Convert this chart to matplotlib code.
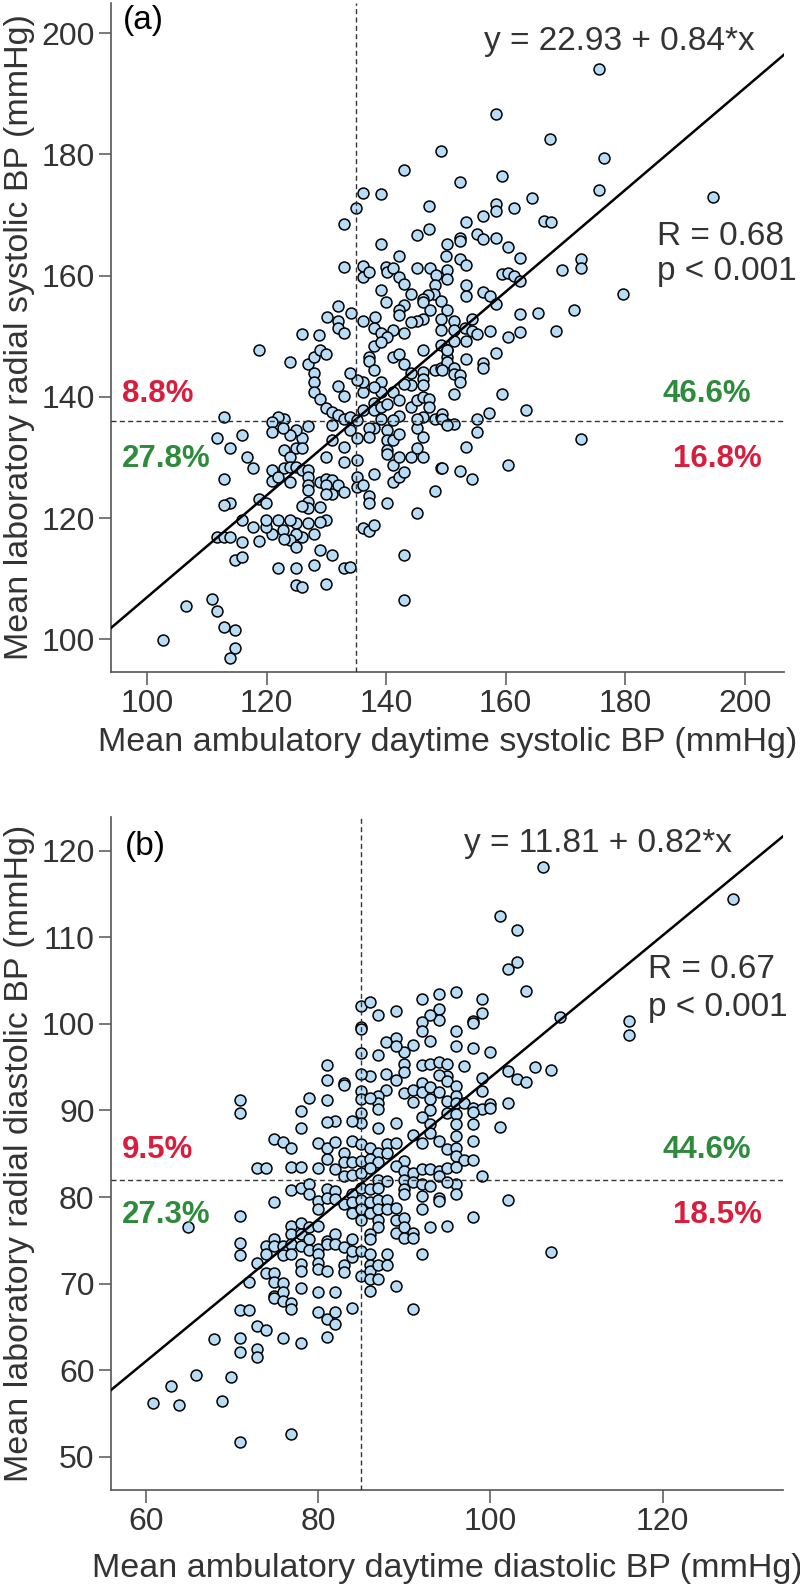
import numpy as np
import matplotlib.pyplot as plt

plt.rcParams['font.family'] = ['Liberation Sans', 'DejaVu Sans']

# (ambulatory daytime, laboratory radial) systolic BP per subject, mmHg
sys_points = np.array([
    (149.2, 180.6), (143.0, 177.4), (136.1, 173.7), (139.1, 173.4), (135.0, 171.2), (147.2, 171.5),
    (133.0, 168.6), (145.2, 166.7), (147.2, 167.7), (150.2, 165.2), (139.1, 165.2), (142.2, 163.2),
    (150.0, 163.2), (133.0, 161.4), (136.1, 161.6), (136.1, 159.8), (137.2, 160.6), (140.0, 161.4),
    (140.1, 160.6), (141.2, 161.2), (142.2, 159.7), (145.2, 161.3), (147.3, 161.2), (148.4, 160.1),
    (150.2, 160.9), (150.2, 159.5), (143.0, 158.7), (148.2, 158.4), (148.1, 157.0), (147.1, 156.8),
    (146.2, 156.2), (146.2, 155.7), (144.1, 156.9), (139.1, 157.6), (140.0, 155.7), (143.0, 155.1),
    (142.2, 154.4), (142.2, 153.5), (149.2, 155.8), (150.2, 154.3), (147.3, 154.4), (146.2, 152.9),
    (145.2, 152.6), (144.1, 152.4), (132.0, 155.0), (134.1, 153.9), (130.1, 153.1), (132.0, 152.5),
    (132.0, 151.4), (133.0, 150.6), (136.1, 152.6), (138.1, 153.1), (138.0, 151.3), (139.1, 150.5),
    (141.1, 151.1), (143.0, 150.5), (125.9, 150.3), (128.8, 150.2), (149.2, 152.8), (149.2, 151.1),
    (140.1, 149.9),
    (175.6, 194.1), (158.4, 186.7), (167.4, 182.6), (176.5, 179.5), (159.4, 176.5), (152.3, 175.4),
    (175.6, 174.1), (194.8, 173.0), (164.5, 172.8), (161.4, 171.1), (158.4, 171.8), (158.4, 170.6),
    (156.3, 169.8), (153.3, 168.9), (166.5, 169.1), (167.6, 168.8), (152.3, 166.3), (152.3, 165.7),
    (155.3, 166.8), (156.3, 166.0), (158.4, 166.2), (160.4, 164.7), (162.4, 162.9), (152.3, 162.7),
    (153.3, 161.7), (159.4, 160.3), (160.4, 160.5), (161.4, 159.9), (162.4, 159.2), (169.5, 160.9),
    (172.6, 162.7), (172.6, 161.3), (153.3, 158.4), (153.3, 156.6), (156.3, 157.3), (157.4, 156.6),
    (158.4, 155.4), (151.3, 152.5), (154.3, 152.8), (162.4, 153.6), (165.4, 153.9), (171.5, 154.3),
    (179.6, 156.9), (151.3, 151.0), (153.2, 151.3), (154.3, 150.9), (155.3, 150.3), (157.4, 150.8),
    (160.4, 149.9), (162.4, 150.7), (168.5, 150.8),
    (118.8, 147.8), (123.9, 145.7), (127.0, 145.5), (128.0, 146.6), (128.9, 147.8), (130.0, 147.0),
    (138.0, 148.4), (139.1, 149.1), (137.1, 146.6), (137.1, 145.9), (138.0, 144.4), (139.1, 142.5),
    (141.1, 146.6), (142.2, 147.0), (143.0, 145.5), (144.2, 144.0), (146.2, 147.8), (149.2, 148.5),
    (150.2, 147.7), (150.2, 146.6), (148.2, 144.4), (149.2, 144.7), (146.2, 144.1), (146.2, 143.0),
    (146.2, 141.9), (144.2, 141.9), (143.0, 142.2), (141.1, 140.8), (139.1, 140.8), (138.0, 141.6),
    (136.1, 140.8), (136.1, 142.5), (135.1, 142.7), (134.0, 144.0), (128.0, 144.0), (128.0, 142.5),
    (128.0, 140.8), (128.9, 139.6), (132.0, 141.8), (133.0, 140.1), (130.0, 138.2), (131.0, 137.5),
    (132.0, 137.0), (133.0, 136.4), (134.0, 136.7), (135.1, 136.1), (136.1, 137.8), (138.0, 139.0),
    (138.0, 137.8), (139.1, 138.3), (140.1, 138.9), (142.2, 139.4), (144.2, 138.3), (145.1, 139.4),
    (146.2, 140.0), (147.2, 139.7), (147.2, 138.3), (148.2, 136.4), (149.2, 136.7), (150.2, 135.6),
    (146.2, 136.7), (145.1, 134.8), (142.2, 136.8), (141.1, 136.1), (139.1, 136.4), (138.0, 134.8),
    (137.1, 134.8), (137.1, 133.4), (140.1, 134.5), (140.1, 132.8), (141.1, 132.8), (142.2, 133.9),
    (146.2, 133.4), (145.1, 136.4), (134.0, 134.5), (135.1, 133.2), (133.0, 131.7), (135.1, 129.5),
    (133.0, 129.3), (131.0, 135.3), (131.0, 132.8), (130.0, 130.1), (127.0, 135.2), (125.9, 133.2),
    (125.0, 134.5), (123.9, 133.7), (122.9, 136.3), (121.9, 136.6), (120.9, 135.9), (120.9, 134.2),
    (122.7, 134.8), (125.0, 131.5), (125.9, 131.5), (122.9, 131.3), (123.9, 130.1), (112.8, 136.7),
    (111.7, 133.2), (113.8, 131.5), (115.9, 133.7), (116.8, 130.1), (117.8, 128.3), (112.8, 126.5),
    (120.9, 128.0), (120.9, 126.1), (122.9, 128.2), (123.9, 128.4), (125.0, 128.4), (125.9, 128.0),
    (127.0, 127.9), (123.9, 126.0), (127.0, 126.8), (127.0, 125.4), (127.0, 124.6), (128.9, 126.0),
    (130.0, 126.4), (131.0, 126.2), (130.0, 125.4), (131.0, 124.0), (130.0, 124.0), (132.0, 125.4),
    (133.0, 124.3), (135.1, 126.8), (135.1, 125.1), (136.1, 125.4), (137.1, 123.6), (137.1, 122.4),
    (138.0, 127.2), (140.1, 131.2), (140.1, 130.5), (141.1, 128.7), (141.1, 126.0), (142.2, 126.8),
    (142.2, 130.1), (143.0, 127.6), (144.2, 130.1), (146.2, 130.1), (145.1, 131.5), (148.2, 124.5),
    (149.2, 128.2), (140.1, 122.4), (145.1, 120.9), (127.0, 122.7), (127.0, 121.6), (125.9, 122.0),
    (128.9, 121.8), (130.0, 119.7), (128.9, 119.4), (128.0, 117.4), (127.0, 119.1), (125.9, 116.9),
    (125.0, 119.1), (125.0, 117.3), (123.9, 116.3), (122.7, 118.1), (121.9, 119.7), (120.9, 117.4),
    (119.9, 118.5), (119.9, 119.7), (118.8, 123.1), (119.9, 122.4), (117.8, 118.5), (118.8, 116.2),
    (115.9, 119.7), (115.9, 116.1), (113.8, 122.4), (112.8, 122.2), (111.7, 116.9), (112.8, 116.9),
    (113.8, 116.9), (114.8, 113.0), (115.9, 113.5), (121.9, 111.7), (122.9, 116.6), (125.0, 115.2),
    (128.9, 114.8), (131.0, 113.9), (128.0, 112.3), (125.0, 111.8), (133.0, 111.8), (134.0, 112.0),
    (125.0, 108.9), (125.9, 108.6), (130.0, 109.1), (136.1, 118.4), (137.1, 117.8), (138.0, 118.9),
    (143.0, 113.9), (143.0, 106.5), (106.6, 105.5), (110.8, 106.6), (111.7, 104.7), (112.8, 102.0),
    (114.8, 101.6), (114.8, 98.6), (113.8, 96.9), (102.7, 99.8), (123.9, 119.7), (121.9, 126.8),
    (158.4, 147.3), (153.3, 146.2), (156.3, 145.6), (156.3, 144.7), (150.2, 145.8), (151.3, 144.7),
    (151.3, 143.8), (152.3, 143.6), (152.3, 142.4), (149.3, 144.5), (151.3, 140.4), (159.4, 140.4),
    (163.4, 137.8), (157.3, 137.4), (155.3, 136.4), (149.3, 137.2), (149.3, 136.3), (151.3, 135.6),
    (150.2, 135.3), (155.3, 134.2), (172.6, 133.1), (153.3, 131.7), (149.3, 128.2), (152.3, 127.8),
    (154.3, 126.4), (160.4, 128.8), (153.3, 149.3), (151.3, 149.3), (150.2, 147.7),
])

# (ambulatory daytime, laboratory radial) diastolic BP per subject, mmHg
dia_points = np.array([
    (71.0, 91.2), (71.0, 89.7), (78.0, 89.9), (79.0, 91.4), (81.0, 95.3), (81.0, 93.5),
    (81.0, 91.2), (83.0, 93.2), (83.0, 92.9), (85.0, 102.1), (86.0, 102.5), (87.0, 101.0),
    (89.0, 101.5), (92.1, 102.9), (94.1, 103.5), (85.0, 99.7), (85.0, 99.4), (94.1, 101.7),
    (94.1, 100.5), (93.0, 101.0), (92.1, 100.2), (92.1, 99.2), (93.0, 98.0), (91.0, 97.6),
    (90.0, 96.7), (89.0, 98.4), (87.9, 97.9), (89.0, 97.4), (87.0, 96.4), (85.0, 96.6),
    (90.0, 95.4), (92.1, 95.3), (93.0, 95.4), (94.1, 95.6), (95.0, 95.4), (95.0, 94.0),
    (94.1, 94.1), (90.0, 94.4), (87.9, 94.2), (86.0, 94.0), (85.0, 94.2), (89.0, 93.5),
    (87.9, 92.4), (87.0, 91.7), (87.0, 90.9), (87.0, 90.2), (85.0, 92.2), (85.0, 91.3),
    (86.0, 91.4), (90.0, 92.0), (91.0, 92.4), (91.0, 91.0), (92.1, 93.2), (92.1, 92.1),
    (93.0, 92.7), (93.0, 91.3), (93.0, 90.1), (94.1, 92.1), (95.0, 93.4), (95.0, 91.1),
    (95.0, 89.7), (92.1, 89.2), (93.0, 88.4), (85.0, 89.7), (85.0, 88.5), (84.0, 88.8),
    (82.0, 88.8), (81.0, 88.7), (89.0, 88.6), (87.0, 88.0), (78.0, 88.0),
    (106.1, 118.1), (101.1, 112.5), (103.1, 110.9), (102.1, 106.3), (103.1, 107.1), (104.1, 103.8),
    (128.2, 114.4), (108.1, 100.8), (116.1, 100.3), (116.1, 98.7), (96.0, 103.7), (99.0, 102.9),
    (99.0, 101.3), (98.0, 100.3), (98.0, 100.1), (96.0, 99.2), (96.0, 97.4), (98.0, 97.2),
    (100.0, 96.7), (97.0, 95.1), (102.1, 94.6), (103.1, 93.6), (104.1, 93.3), (105.2, 95.0),
    (107.1, 94.7), (99.0, 93.8), (99.0, 92.2), (96.0, 92.8), (96.0, 91.7), (96.0, 90.9),
    (97.0, 90.9), (98.0, 90.3), (99.0, 90.2), (100.0, 90.7), (100.0, 90.3), (102.1, 90.9),
    (96.0, 89.6), (98.0, 89.8), (96.0, 88.4), (98.0, 88.4), (101.1, 88.1),
    (74.9, 86.7), (75.9, 86.4), (76.9, 85.7), (80.0, 86.2), (81.0, 85.7), (82.0, 86.4),
    (83.0, 85.1), (84.0, 86.5), (85.0, 86.1), (86.0, 85.7), (87.0, 85.1), (88.0, 86.1),
    (89.0, 86.3), (90.0, 84.2), (91.0, 87.2), (92.1, 86.3), (93.0, 87.4), (94.1, 86.5),
    (95.0, 85.5), (72.9, 83.3), (74.0, 83.4), (76.9, 83.5), (78.0, 83.5), (80.0, 83.4),
    (81.0, 84.4), (82.0, 83.2), (83.0, 84.0), (84.0, 84.0), (85.0, 84.2), (86.0, 84.4),
    (87.0, 84.0), (88.0, 85.1), (89.0, 83.6), (90.0, 83.0), (91.0, 82.8), (92.1, 83.2),
    (93.0, 83.2), (94.1, 83.0), (95.0, 83.4), (83.0, 82.4), (84.0, 82.6), (85.0, 82.8),
    (86.0, 83.3), (87.0, 82.0), (88.0, 81.9), (90.0, 82.0), (91.0, 81.7), (92.1, 81.5),
    (93.0, 81.3), (94.1, 82.4), (76.9, 80.8), (78.0, 81.1), (79.0, 81.5), (79.0, 80.3),
    (80.0, 79.6), (80.0, 78.6), (81.0, 80.9), (81.0, 79.9), (82.0, 80.7), (82.0, 79.8),
    (83.0, 79.2), (84.0, 80.3), (84.0, 79.4), (84.0, 78.2), (85.0, 81.1), (85.0, 79.7),
    (85.0, 78.6), (85.0, 77.4), (86.0, 80.9), (86.0, 79.4), (86.0, 78.2), (87.0, 81.1),
    (87.0, 79.7), (87.0, 78.6), (87.0, 77.4), (87.0, 76.5), (88.0, 79.7), (88.0, 78.6),
    (89.0, 78.7), (89.0, 77.4), (89.0, 75.9), (90.0, 80.9), (90.0, 80.3), (90.0, 77.6),
    (90.0, 76.5), (90.0, 75.3), (91.0, 75.9), (91.0, 75.3), (92.1, 80.1), (92.1, 78.6),
    (93.0, 76.5), (94.1, 79.9), (94.1, 79.5), (95.0, 76.7), (74.9, 79.4), (71.0, 77.8),
    (64.9, 76.5), (71.0, 74.7), (71.0, 73.3), (72.9, 72.4), (74.0, 74.3), (74.0, 73.4),
    (74.9, 75.1), (74.9, 74.4), (75.9, 74.4), (75.9, 73.3), (76.9, 76.7), (76.9, 75.7),
    (76.9, 74.6), (76.9, 73.4), (78.0, 77.0), (78.0, 75.7), (78.0, 74.4), (78.0, 72.3),
    (78.0, 71.5), (79.0, 76.5), (79.0, 75.1), (79.0, 73.9), (80.0, 76.7), (80.0, 74.0),
    (80.0, 73.4), (80.0, 72.4), (80.0, 71.7), (81.0, 74.9), (81.0, 74.6), (81.0, 71.5),
    (82.0, 75.7), (82.0, 74.6), (83.0, 74.2), (83.0, 72.1), (83.0, 71.4), (84.0, 75.2),
    (84.0, 73.1), (84.0, 73.8), (85.0, 73.8), (85.0, 70.9), (86.0, 75.7), (86.0, 75.1),
    (86.0, 73.4), (86.0, 72.2), (86.0, 71.5), (86.0, 70.5), (86.0, 69.2), (87.0, 72.1),
    (87.0, 70.5), (88.0, 73.4), (88.0, 72.2), (89.0, 69.7), (91.0, 67.1), (92.1, 73.4),
    (72.0, 70.2), (74.0, 71.2), (74.9, 71.2), (74.9, 70.2), (75.9, 70.1), (74.9, 68.6),
    (74.9, 68.3), (75.9, 69.0), (75.9, 68.0), (76.9, 67.8), (76.9, 67.1), (78.0, 69.5),
    (80.0, 69.0), (82.0, 69.0), (84.0, 67.2), (80.0, 66.7), (81.0, 65.9), (82.0, 66.7),
    (82.0, 65.3), (71.0, 67.0), (72.0, 67.0), (72.9, 65.1), (74.0, 64.7), (75.9, 63.7),
    (78.0, 63.1), (81.0, 63.8), (67.9, 63.6), (71.0, 63.7), (71.0, 62.1), (72.9, 62.4),
    (72.9, 61.5), (65.9, 59.4), (69.9, 59.2), (62.9, 58.2), (68.9, 56.5), (60.9, 56.2),
    (63.9, 56.0), (71.0, 51.7), (76.9, 52.6),
    (98.0, 86.5), (96.0, 87.0), (96.0, 85.7), (96.0, 84.7), (97.0, 84.3), (98.0, 84.3),
    (96.0, 83.5), (99.0, 82.4), (96.0, 81.5), (96.0, 80.4), (102.1, 79.7), (98.0, 77.7),
    (107.1, 73.7), (95.0, 81.7),
])

sys_fit = (22.93, 0.84)
dia_fit = (11.81, 0.82)
sys_cut = (135, 136)
dia_cut = (85, 82)
# quadrant shares: upper-left, lower-left, upper-right, lower-right
sys_pct = ['8.8%', '27.8%', '46.6%', '16.8%']
dia_pct = ['9.5%', '27.3%', '44.6%', '18.5%']

RED = '#d81e3c'
GREEN = '#2e8b3b'
GREY = '#555555'
TXT = '#333333'


def draw_panel(ax, pts, fit, cut, pct, stats, letter, xlabel, ylabel,
               xlim, ylim, xticks, yticks, pos):
    ax.scatter(pts[:, 0], pts[:, 1], s=62, c='#b8dcf5', edgecolors='black',
               linewidths=1.1, zorder=2)
    ax.set_xlim(xlim)
    ax.set_ylim(ylim)
    xs = np.array(xlim)
    ax.plot(xs, fit[0] + fit[1] * xs, color='black', lw=1.8, zorder=3)
    ax.axvline(cut[0], color='#333333', lw=1.0, ls=(0, (3.6, 2.4)), zorder=3)
    ax.axhline(cut[1], color='#333333', lw=1.0, ls=(0, (3.6, 2.4)), zorder=3)

    ax.set_xticks(xticks)
    ax.set_yticks(yticks)
    ax.tick_params(length=9, width=1.1, color=GREY, labelsize=23,
                   labelcolor=TXT, pad=3)
    for side in ['top', 'right']:
        ax.spines[side].set_visible(False)
    for side in ['left', 'bottom']:
        ax.spines[side].set_color(GREY)
        ax.spines[side].set_linewidth(1.2)

    ax.set_xlabel(xlabel, fontsize=24.5, color=TXT)
    ax.set_ylabel(ylabel, fontsize=24.5, color=TXT)
    ax.xaxis.set_label_coords(0.5, pos['xlab'])
    ax.yaxis.set_label_coords(-0.114, 0.5)

    tr = ax.transAxes
    ax.text(pos['letter'][0], pos['letter'][1], letter, transform=tr,
            fontsize=24, color='black', va='top', ha='left')
    ax.text(pos['eq'][0], pos['eq'][1], 'y = %.2f + %.2f*x' % fit, transform=tr,
            fontsize=24, color=TXT, ha='center', va='baseline')
    ax.text(pos['r'][0], pos['r'][1], stats[0], transform=tr,
            fontsize=24, color=TXT, ha='left', va='baseline')
    ax.text(pos['r'][0], pos['r'][2], stats[1], transform=tr,
            fontsize=24, color=TXT, ha='left', va='baseline')
    bold = dict(transform=tr, fontsize=22.5, fontweight='bold', ha='left', va='baseline')
    ax.text(pos['left'], pos['upper'], pct[0], color=RED, **bold)
    ax.text(pos['left'], pos['lower'], pct[1], color=GREEN, **bold)
    ax.text(pos['right'][0], pos['upper'], pct[2], color=GREEN, **bold)
    ax.text(pos['right'][1], pos['lower'], pct[3], color=RED, **bold)


fig = plt.figure(figsize=(8, 15.87), dpi=100)
ax_a = fig.add_axes([0.139, 0.5766, 0.841, 0.4215])
ax_b = fig.add_axes([0.139, 0.0611, 0.840, 0.4241])

draw_panel(ax_a, sys_points, sys_fit, sys_cut, sys_pct, ['R = 0.68', 'p < 0.001'], '(a)',
           'Mean ambulatory daytime systolic BP (mmHg)',
           'Mean laboratory radial systolic BP (mmHg)',
           (94.0, 206.6), (94.6, 205.0), range(100, 201, 20), range(100, 201, 20),
           dict(xlab=-0.083, letter=(0.018, 0.997), eq=(0.756, 0.930),
                r=(0.811, 0.638, 0.586), left=0.016, upper=0.4036, lower=0.3064,
                right=(0.820, 0.835)))

draw_panel(ax_b, dia_points, dia_fit, dia_cut, dia_pct, ['R = 0.67', 'p < 0.001'], '(b)',
           'Mean ambulatory daytime diastolic BP (mmHg)',
           'Mean laboratory radial diastolic BP (mmHg)',
           (56.0, 134.0), (46.16, 123.9), range(60, 121, 20), range(50, 121, 10),
           dict(xlab=-0.093, letter=(0.021, 0.979), eq=(0.725, 0.948),
                r=(0.799, 0.761, 0.704), left=0.016, upper=0.493, lower=0.397,
                right=(0.821, 0.836)))

fig.savefig('out.png', dpi=100)
